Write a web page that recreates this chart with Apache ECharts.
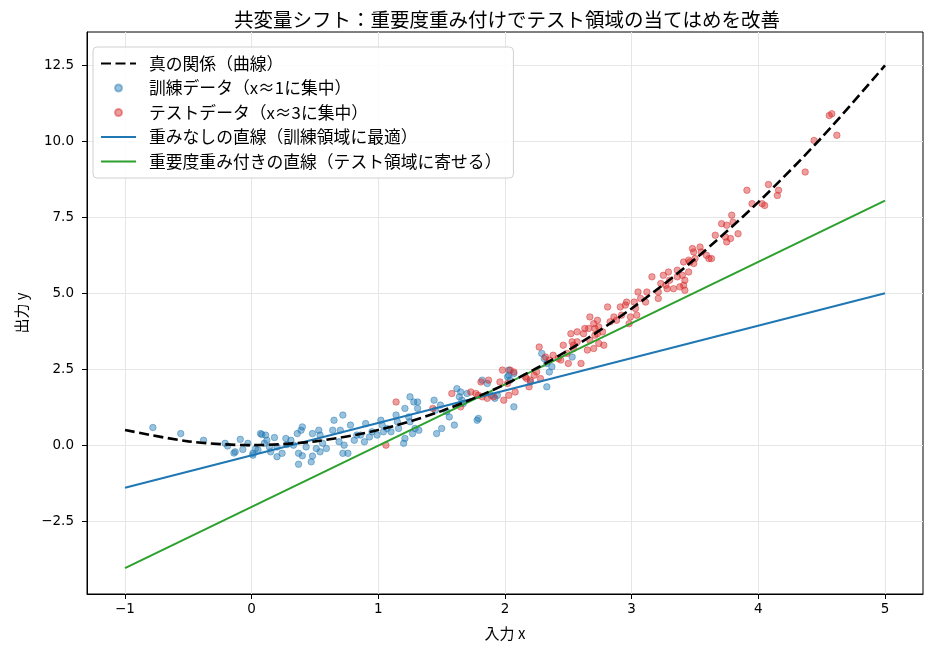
<!DOCTYPE html>
<html>
<head>
<meta charset="utf-8">
<script src="https://cdn.jsdelivr.net/npm/echarts@6/dist/echarts.min.js"></script>
<style>
  html, body { margin: 0; padding: 0; background: #fff; }
  #box { width: 934px; height: 657px; }
</style>
</head>
<body>
<div id="box"></div>
<script>
// 訓練データ（x≈1付近）
var trainX = [-0.78,-0.56,-0.38,-0.21,-0.19,-0.09,-0.07,-0.13,-0.14,-0.03,0.01,0.05,0.07,0.01,0.03,0.08,0.11,0.12,0.10,0.14,
  0.15,0.18,0.20,0.20,0.24,0.27,0.28,0.31,0.33,0.36,0.39,0.40,0.37,0.40,0.37,0.43,0.47,0.48,0.48,0.51,
  0.53,0.54,0.54,0.56,0.59,0.64,0.65,0.69,0.70,0.72,0.73,0.72,0.76,0.78,0.81,0.83,0.86,0.90,0.89,0.93,
  0.95,0.99,1.02,1.03,1.04,1.07,1.10,1.14,1.15,1.21,1.25,1.28,1.31,1.31,1.24,1.25,1.29,1.32,1.27,1.21,
  1.20,1.16,1.44,1.45,1.49,1.54,1.56,1.60,1.50,1.46,1.62,1.65,1.64,1.66,1.67,1.70,1.79,1.78,1.86,1.89,
  1.94,2.03,2.04,2.07,2.20,1.82,1.92,2.03,2.02,2.07,2.29,2.31,2.33,2.35,2.33,2.37,2.53];
var trainY = [0.58,0.38,0.16,0.06,-0.03,0.19,-0.14,-0.22,-0.26,0.06,-0.27,-0.16,0.38,-0.33,-0.12,0.35,0.33,0.16,0.06,-0.06,
  -0.22,0.25,-0.06,-0.38,-0.27,0.22,0.02,0.16,0.00,0.38,0.49,0.60,-0.27,-0.35,-0.63,-0.06,-0.55,-0.36,0.38,-0.11,
  0.49,0.33,-0.22,0.06,-0.11,0.49,0.82,0.11,0.49,0.99,0.00,-0.27,-0.27,0.66,0.16,0.33,0.33,0.71,0.11,0.27,
  0.44,0.33,0.82,0.66,0.44,0.55,0.44,0.99,0.77,1.21,1.59,1.42,1.42,1.21,0.93,0.77,0.55,0.49,0.38,0.22,
  0.06,0.55,1.48,1.15,1.32,1.10,0.93,0.66,0.55,0.38,1.86,1.75,1.59,1.48,1.37,1.70,0.88,0.82,2.03,1.64,
  1.64,2.30,2.14,1.26,2.08,2.14,1.54,2.47,2.25,2.36,3.02,2.85,2.69,2.41,1.92,2.58,2.90];

// テストデータ（x≈3付近）
var testX = [1.14,1.06,1.43,1.58,1.65,1.73,1.77,1.81,1.87,1.86,1.82,1.91,1.96,1.98,1.99,2.03,2.08,2.04,2.07,2.17,
  2.20,2.19,2.23,2.25,1.79,2.02,2.16,2.27,2.28,2.32,2.35,2.38,2.42,2.44,2.46,2.49,2.50,2.52,2.53,2.54,
  2.57,2.60,2.62,2.65,2.66,2.67,2.70,2.71,2.73,2.54,2.57,2.63,2.67,2.70,2.71,2.73,2.74,2.77,2.78,2.74,
  2.81,2.83,2.86,2.88,2.91,2.92,2.95,2.96,2.98,2.99,3.02,3.03,3.04,3.05,3.07,3.11,3.12,3.16,3.21,3.21,
  3.23,3.25,3.27,3.28,3.29,3.30,3.33,3.36,3.38,3.42,3.41,3.45,3.36,3.40,3.41,3.42,3.46,3.48,3.49,3.45,
  3.49,3.50,3.54,3.55,3.59,3.61,3.63,3.66,3.71,3.75,3.74,3.78,3.75,3.79,3.80,3.84,3.95,4.03,4.58,4.56,
  4.62,4.44,4.37,4.16,4.15,4.08,3.91,4.05];
var testY = [1.42,0.00,1.21,1.70,1.26,1.75,1.70,2.08,2.14,1.54,1.59,1.59,2.08,2.47,1.48,1.64,1.75,2.47,2.41,2.19,
  2.14,1.92,2.30,2.41,1.64,2.03,2.25,3.23,2.19,2.90,2.80,2.96,2.85,2.80,3.29,3.02,2.69,3.67,3.40,3.29,
  3.40,2.69,3.67,3.13,3.84,3.45,3.18,3.84,3.67,3.18,3.73,3.84,4.22,4.00,3.62,4.11,3.89,3.73,3.29,3.35,
  4.55,4.06,4.22,4.11,4.55,4.28,4.61,4.71,4.00,4.22,4.71,4.50,4.28,5.04,4.83,4.71,5.04,5.54,5.04,4.83,
  5.32,5.59,5.26,5.15,5.70,5.43,5.15,5.54,5.21,5.43,6.03,5.70,5.76,5.59,5.26,5.10,6.03,6.47,6.36,6.09,
  5.98,6.14,6.52,6.36,6.25,6.14,6.14,6.91,7.29,7.24,6.85,6.80,6.69,7.57,7.34,6.96,7.95,7.95,10.91,10.85,
  10.20,10.03,8.99,8.39,8.22,8.58,8.39,7.89];

// 真の関係（曲線）
var curveX = [-1,-0.5,0,0.5,1,1.5,2,2.5,3,3.5,4,4.5,5];
var curveY = [0.5,0.125,0,0.125,0.5,1.125,2,3.125,4.5,6.125,8,10.125,12.5];

// 直線の両端
var lineX = [-1, 5];
var plainY = [-1.4, 5.0];
var weightedY = [-4.05, 8.05];

var xTicks = [-1, 0, 1, 2, 3, 4, 5];
var yTicks = [-2.5, 0, 2.5, 5, 7.5, 10, 12.5];

var names = ['真の関係（曲線）', '訓練データ（x≈1に集中）', 'テストデータ（x≈3に集中）',
  '重みなしの直線（訓練領域に最適）', '重要度重み付きの直線（テスト領域に寄せる）'];

function pairs(xs, ys) {
  return xs.map(function (x, i) { return [x, ys[i]]; });
}
function minus(s) { return String(s).replace('-', '\u2212'); }

var jp = '"Noto Sans CJK JP", "DejaVu Sans", sans-serif';
var num = '"DejaVu Sans", sans-serif';
var gridColor = '#e6e6e6';
var noDot = { opacity: 0 };

var chartDom = document.getElementById('box');
var myChart = echarts.init(chartDom);
var option = {
  animation: false,
  title: {
    text: '共変量シフト：重要度重み付けでテスト領域の当てはめを改善',
    left: 229,
    top: 5,
    textStyle: { fontFamily: jp, fontSize: 19.5, fontWeight: 'normal', color: '#000' }
  },
  legend: {
    orient: 'vertical',
    left: 93,
    top: 47,
    padding: [8, 12, 8, 7],
    itemWidth: 35,
    itemHeight: 7,
    itemGap: 7.5,
    backgroundColor: 'rgba(255,255,255,0.85)',
    borderColor: '#d0d0d0',
    borderWidth: 1,
    borderRadius: 4,
    textStyle: { fontFamily: jp, fontSize: 16.8, lineHeight: 17, color: '#000', padding: [0, 0, 0, 8] },
    data: [
      { name: names[0], itemStyle: noDot },
      { name: names[1] },
      { name: names[2] },
      { name: names[3], itemStyle: noDot },
      { name: names[4], itemStyle: noDot }
    ]
  },
  grid: {
    left: 87, right: 11, top: 32, bottom: 63,
    show: true, borderColor: '#000', borderWidth: 1
  },
  xAxis: {
    type: 'value',
    min: -1.3,
    max: 5.3,
    name: '入力 x',
    nameLocation: 'middle',
    nameGap: 32,
    nameTextStyle: { fontFamily: jp, fontSize: 15, color: '#000' },
    axisLine: { show: true, onZero: false, lineStyle: { color: '#000', width: 1 } },
    axisTick: { show: true, length: 5, customValues: xTicks, lineStyle: { color: '#000' } },
    axisLabel: {
      customValues: xTicks,
      margin: 8,
      fontFamily: num, fontSize: 13.5, color: '#000',
      formatter: function (v) { return minus(v); }
    },
    splitLine: { show: true, lineStyle: { color: gridColor, width: 1 } }
  },
  yAxis: {
    type: 'value',
    min: -4.9,
    max: 13.6,
    name: '出力 y',
    nameLocation: 'middle',
    nameGap: 58,
    nameRotate: 90,
    nameTextStyle: { fontFamily: jp, fontSize: 15, color: '#000' },
    axisLine: { show: true, onZero: false, lineStyle: { color: '#000', width: 1 } },
    axisTick: { show: true, length: 5, customValues: yTicks, lineStyle: { color: '#000' } },
    axisLabel: {
      customValues: yTicks,
      margin: 13,
      fontFamily: num, fontSize: 13.5, color: '#000',
      formatter: function (v) { return minus(v.toFixed(1)); }
    },
    splitLine: { show: true, lineStyle: { color: gridColor, width: 1 } }
  },
  series: [
    {
      name: names[1],
      type: 'scatter',
      symbolSize: 6.5,
      z: 2,
      itemStyle: { color: '#1f77b4', opacity: 0.45, borderColor: '#1f77b4', borderWidth: 1 },
      data: pairs(trainX, trainY)
    },
    {
      name: names[2],
      type: 'scatter',
      symbolSize: 6.5,
      z: 2,
      itemStyle: { color: '#d62728', opacity: 0.45, borderColor: '#d62728', borderWidth: 1 },
      data: pairs(testX, testY)
    },
    {
      name: names[0],
      type: 'line',
      smooth: 0.3,
      symbol: 'none',
      z: 5,
      lineStyle: { color: '#000', width: 2.6, type: [10, 4.5] },
      itemStyle: { color: '#000' },
      data: pairs(curveX, curveY)
    },
    {
      name: names[3],
      type: 'line',
      symbol: 'none',
      z: 4,
      lineStyle: { color: '#1f77b4', width: 2 },
      itemStyle: { color: '#1f77b4' },
      data: pairs(lineX, plainY)
    },
    {
      name: names[4],
      type: 'line',
      symbol: 'none',
      z: 4,
      lineStyle: { color: '#2ca02c', width: 2 },
      itemStyle: { color: '#2ca02c' },
      data: pairs(lineX, weightedY)
    }
  ]
};
option && myChart.setOption(option);
</script>
</body>
</html>
